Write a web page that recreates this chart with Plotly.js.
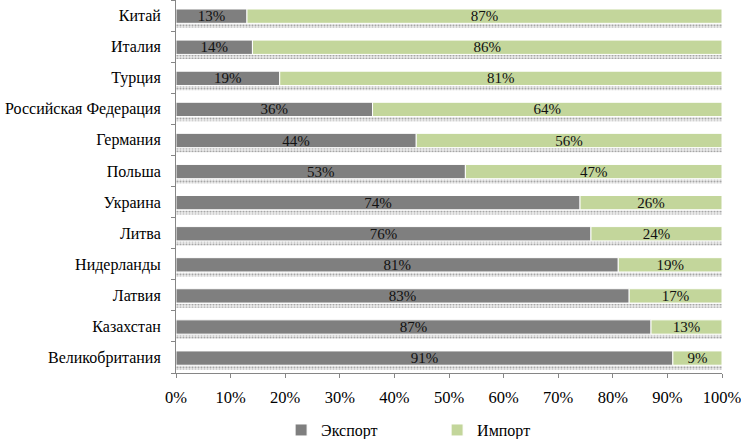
<!DOCTYPE html>
<html><head><meta charset="utf-8">
<script src="https://cdn.plot.ly/plotly-3.0.1.min.js"></script>
<style>html,body{margin:0;padding:0;background:#fff}#chart{width:741px;height:439px}</style>
</head><body><div id="chart"></div>
<script>
// Categories listed bottom to top
var countries = ["Великобритания","Казахстан","Латвия","Нидерланды","Литва","Украина","Польша","Германия","Российская Федерация","Турция","Италия","Китай"];
var exportShare = [91, 87, 83, 81, 76, 74, 53, 44, 36, 19, 14, 13];
var importShare = [9, 13, 17, 19, 24, 26, 47, 56, 64, 81, 86, 87];
var seriesNames = ["Экспорт", "Импорт"];

var totals = exportShare.map(function(v,i){return v + importShare[i];});
var font = "Liberation Serif, Times New Roman, serif";

var shadow = {
  type:'bar', orientation:'h', y: countries, x: totals, base: 0,
  width: 0.13, offset: -0.40, showlegend:false, hoverinfo:'skip',
  marker:{color:'#e4e4e4', line:{width:0},
    pattern:{shape:'.', fgcolor:'#a6a6a6', bgcolor:'#ececec', size:3, solidity:0.35}}
};
var exp = {
  type:'bar', orientation:'h', name: seriesNames[0], y: countries, x: exportShare, base: 0,
  width:0.46, offset:-0.25,
  marker:{color:'#7f7f7f', line:{color:'#ffffff', width:1}},
  text: exportShare.map(function(v){return v+'%';}),
  textposition:'inside', insidetextanchor:'middle', constraintext:'none',
  textfont:{family:font, size:15, color:'#111'}
};
var imp = {
  type:'bar', orientation:'h', name: seriesNames[1], y: countries, x: importShare, base: exportShare,
  width:0.46, offset:-0.25,
  marker:{color:'#c3d69b', line:{color:'#ffffff', width:1}},
  text: importShare.map(function(v){return v+'%';}),
  textposition:'inside', insidetextanchor:'middle', constraintext:'none',
  textfont:{family:font, size:15, color:'#111'}
};

var layout = {
  width:741, height:439,
  margin:{l:176, r:19, t:0, b:66, autoexpand:false},
  barmode:'overlay',
  paper_bgcolor:'#fff', plot_bgcolor:'#fff',
  font:{family:font, size:16, color:'#000'},
  uniformtext:{mode:'show', minsize:15},
  xaxis:{range:[0,100], dtick:10, tick0:0, ticksuffix:'%', showgrid:false, zeroline:false,
    showline:true, linecolor:'#868686', linewidth:1, ticks:'outside', ticklen:4, tickcolor:'#868686',
    ticklabelstandoff:5, ticklabeloverflow:'allow', automargin:false,
    tickfont:{family:font, size:16.5, color:'#000'}, fixedrange:true},
  yaxis:{type:'category', showgrid:false, zeroline:false, showline:true, linecolor:'#868686', linewidth:1,
    ticks:'outside', ticklen:4, tickcolor:'#868686', tickson:'boundaries', ticklabelstandoff:11,
    automargin:false,
    range:[-0.5, 11.5], tickfont:{family:font, size:16, color:'#000'}, fixedrange:true},
  legend:{orientation:'h', x:0.1925, xanchor:'left', y:-0.153, yanchor:'middle',
    font:{family:font, size:16, color:'#000'}, itemwidth:30, entrywidth:111, traceorder:'normal'},
  showlegend:true
};
Plotly.newPlot('chart', [shadow, exp, imp], layout, {staticPlot:true, displayModeBar:false});
</script></body></html>
